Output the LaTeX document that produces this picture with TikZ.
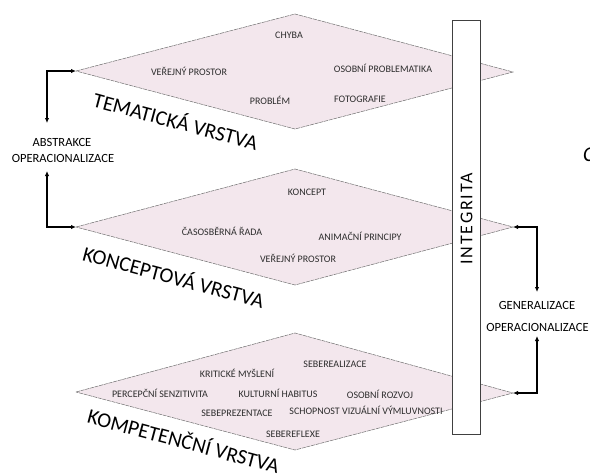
\documentclass[tikz,border=0pt]{standalone}
\usepackage{fontspec}
\setmainfont{Carlito}
\usetikzlibrary{arrows.meta}
\definecolor{layerfill}{RGB}{243,231,237}
\definecolor{edgegray}{RGB}{110,110,110}
\definecolor{smalltext}{RGB}{45,45,45}
\tikzset{
  layer/.style={fill=layerfill, draw=edgegray, line width=0.5pt, dash pattern=on 4pt off 0.8pt},
  item/.style={font=\fontsize{10}{11}\selectfont, text=smalltext, inner sep=1pt},
  layerlabel/.style={font=\fontsize{21}{24}\selectfont, rotate=-15, inner sep=0pt},
  sidelabel/.style={font=\fontsize{12.5}{14}\selectfont, inner sep=1pt},
  link/.style={line width=1.6pt, {Latex[length=5pt,width=4.5pt]}-{Latex[length=5pt,width=4.5pt]}},
  integ/.style={draw=black!75, fill=white, line width=0.6pt, minimum width=28pt, minimum height=414pt, inner sep=0pt}
}
\begin{document}
\begin{tikzpicture}[x=1pt,y=-1pt]
\useasboundingbox (0,0) rectangle (590,475);
\begin{scope}
\clip (0,0) rectangle (590,475);
% layer vertices
\coordinate (tL) at (76,71);  \coordinate (tT) at (295,14);  \coordinate (tR) at (513,72);  \coordinate (tB) at (295,129);
\coordinate (mL) at (76,227); \coordinate (mT) at (295,169); \coordinate (mR) at (513,227); \coordinate (mB) at (295,285);
\coordinate (bL) at (76,392); \coordinate (bT) at (295,333); \coordinate (bR) at (513,393); \coordinate (bB) at (295,450);
\draw[layer] (tL) -- (tT) -- (tR) -- (tB) -- cycle;
\draw[layer] (mL) -- (mT) -- (mR) -- (mB) -- cycle;
\draw[layer] (bL) -- (bT) -- (bR) -- (bB) -- cycle;

% integrity bar
\node[integ] (integ) at (466,227) {};
\node[rotate=90, font=\fontsize{18}{20}\selectfont\addfontfeature{LetterSpace=10}] (integtext) at (466.5,219) {INTEGRITA};

% top layer items
\node[item] (t1) at (289,35) {CHYBA};
\node[item] (t2) at (189,71) {VEŘEJNÝ PROSTOR};
\node[item] (t3) at (383,68) {OSOBNÍ PROBLEMATIKA};
\node[item] (t4) at (270,100) {PROBLÉM};
\node[item] (t5) at (360,99) {FOTOGRAFIE};

% middle layer items
\node[item] (m1) at (307,192) {KONCEPT};
\node[item] (m2) at (222,231) {ČASOSBĚRNÁ ŘADA};
\node[item] (m3) at (360,236) {ANIMAČNÍ PRINCIPY};
\node[item] (m4) at (298,258) {VEŘEJNÝ PROSTOR};

% bottom layer items
\node[item] (b1) at (237,373) {KRITICKÉ MYŠLENÍ};
\node[item] (b2) at (335,364) {SEBEREALIZACE};
\node[item] (b3) at (160,393) {PERCEPČNÍ SENZITIVITA};
\node[item] (b4) at (278,393) {KULTURNÍ HABITUS};
\node[item] (b5) at (380,394) {OSOBNÍ ROZVOJ};
\node[item] (b6) at (237,413) {SEBEPREZENTACE};
\node[item] (b7) at (366,410) {SCHOPNOST VIZUÁLNÍ VÝMLUVNOSTI};
\node[item] (b8) at (293,434) {SEBEREFLEXE};

% layer labels
\node[layerlabel] (lt) at (176,120) {TEMATICKÁ VRSTVA};
\node[layerlabel] (lm) at (174,276) {KONCEPTOVÁ VRSTVA};
\node[layerlabel] (lb) at (184,440) {KOMPETENČNÍ VRSTVA};

% side labels
\node[sidelabel] (abs) at (62,142) {ABSTRAKCE};
\node[sidelabel] (op1) at (63,158) {OPERACIONALIZACE};
\node[sidelabel] (gen) at (537,305) {GENERALIZACE};
\node[sidelabel] (op2) at (537.5,327) {OPERACIONALIZACE};

% connector free ends
\coordinate (a1) at (47,123);
\coordinate (a2) at (47,171);
\coordinate (a3) at (537,292);
\coordinate (a4) at (537,336);
\draw[link] (a1) |- (tL);
\draw[link] (a2) |- (mL);
\draw[link] (mR) -| (a3);
\draw[link] (bR) -| (a4);

% cropped letter at the right edge
\node[anchor=west, inner sep=0pt, font=\fontsize{21}{24}\selectfont\itshape] (cc) at (583,155) {C};
\end{scope}
\end{tikzpicture}
\end{document}
